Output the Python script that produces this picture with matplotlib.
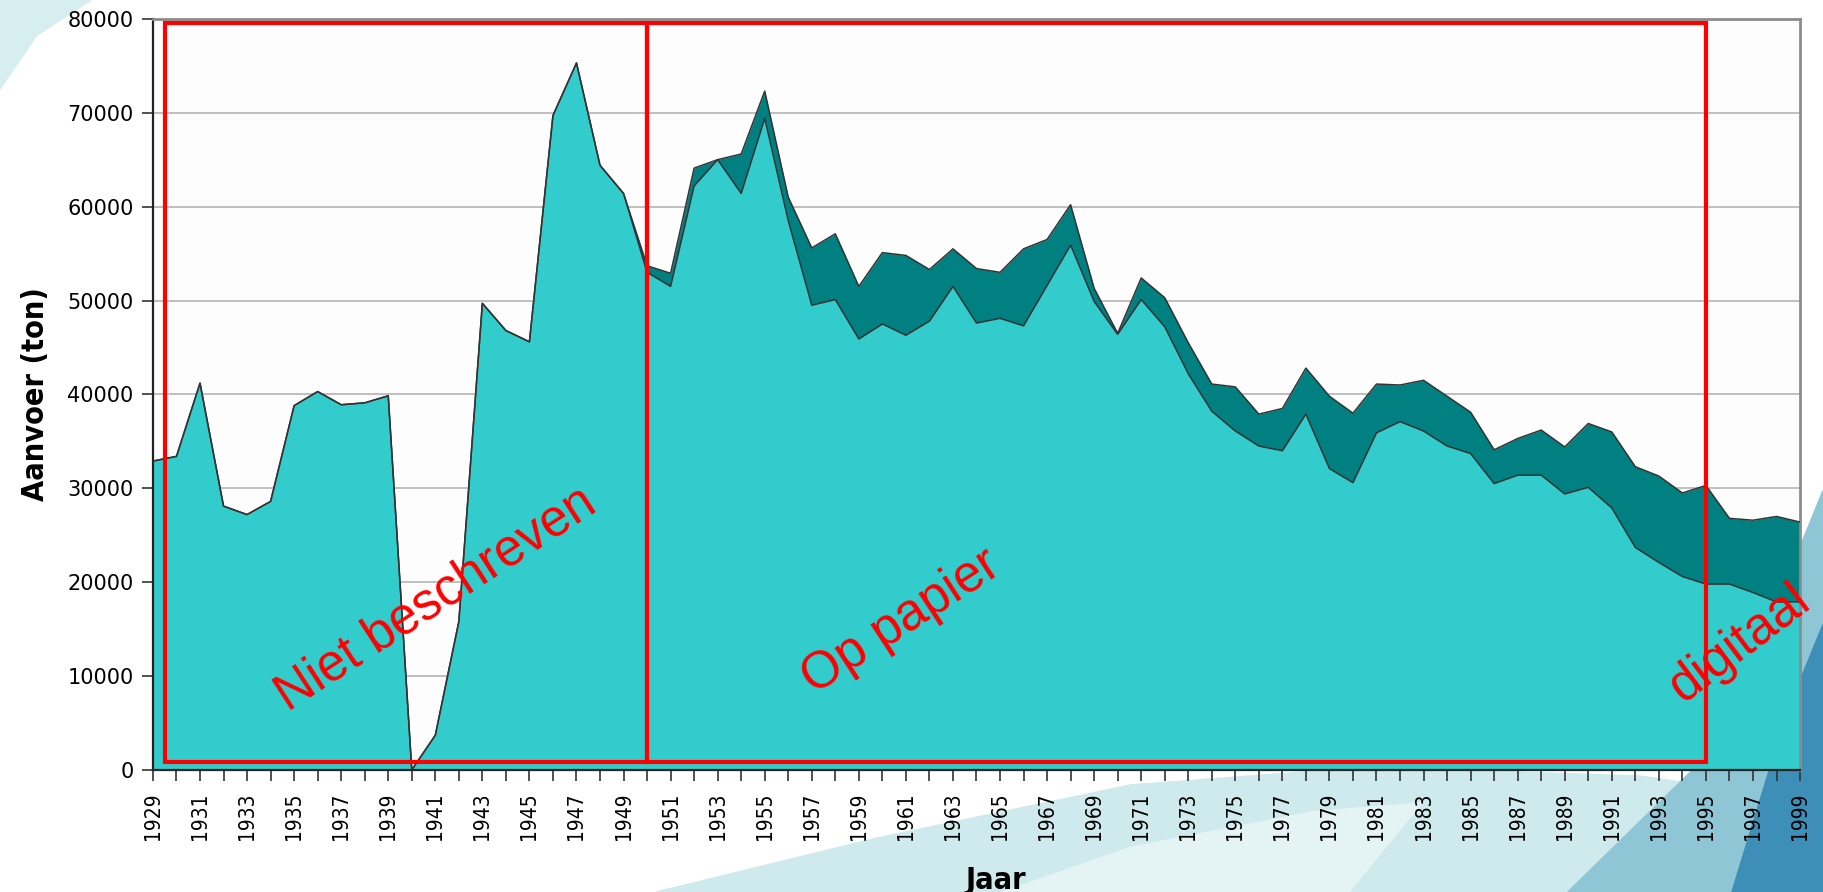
#!/usr/bin/env python3

import matplotlib
matplotlib.use('Agg')
from matplotlib import pyplot as plt
from matplotlib.patches import Rectangle, Polygon


years = list(range(1929, 2000))

# lower (light) series, tons
licht = [32900, 33400, 41200, 28100, 27200, 28600, 38800, 40300, 38900, 39100,
         39850, 0, 3700, 15800, 49700, 46800, 45600, 69700, 75300, 64400,
         61400, 53000, 51500, 62200, 65000, 61400, 69400, 58500, 49500, 50100,
         45900, 47500, 46300, 47800, 51500, 47600, 48100, 47300, 51600, 55900,
         49900, 46400, 50100, 47200, 42200, 38200, 36100, 34500, 34000, 37900,
         32100, 30600, 35900, 37100, 36100, 34500, 33700, 30500, 31400, 31400,
         29400, 30100, 27900, 23700, 22100, 20600, 19800, 19800, 18900, 17900,
         17900]

# total (light + dark), tons
totaal = [32900, 33400, 41200, 28100, 27200, 28600, 38800, 40300, 38900, 39100,
          39850, 0, 3700, 15800, 49700, 46800, 45600, 69700, 75300, 64400,
          61400, 53700, 52900, 64100, 65000, 65600, 72300, 61000, 55600, 57100,
          51500, 55100, 54800, 53300, 55500, 53400, 53000, 55500, 56500, 60200,
          51300, 46500, 52400, 50300, 45500, 41100, 40800, 37900, 38500, 42800,
          39800, 38000, 41100, 41000, 41500, 39800, 38100, 34100, 35300, 36200,
          34400, 36900, 36000, 32300, 31300, 29500, 30300, 26800, 26600, 27000,
          26400]

# periods marked with red boxes: (start, end)
perioden = [(1929.5, 1950), (1950, 1995)]

LICHT = '#33cccc'
DONKER = '#008080'
ROOD = '#ff0000'
SMAL = dict(family='DejaVu Sans', fontstretch='condensed')


def background(fig):
    bg = fig.add_axes([0, 0, 1, 1], zorder=-10)
    bg.set_xlim(0, 1)
    bg.set_ylim(0, 1)
    bg.axis('off')
    # soft cyan swirls of the slide background
    bg.add_patch(Polygon([[0, 0.90], [0.02, 0.96], [0.05, 1], [0.0, 1]], closed=True, color='#d6eef0'))
    bg.add_patch(Polygon([[0.36, 0], [0.48, 0.06], [0.62, 0.12], [0.75, 0.14],
                          [0.9, 0.13], [1, 0.1], [1, 0]], closed=True, color='#cfeaec'))
    bg.add_patch(Polygon([[0.55, 0], [0.62, 0.05], [0.72, 0.09], [0.78, 0.1],
                          [0.74, 0.0]], closed=True, color='#e4f3f4'))
    bg.add_patch(Polygon([[0.86, 0], [0.93, 0.14], [0.97, 0.3], [1, 0.45],
                          [1, 0]], closed=True, color='#8fc6d6'))
    bg.add_patch(Polygon([[0.95, 0], [0.98, 0.2], [1, 0.3], [1, 0]],
                         closed=True, color='#3d8fb8'))


def plot_aanvoer():
    fig = plt.figure(figsize=(18.23, 8.92), dpi=100)
    background(fig)
    ax = fig.add_axes([0.0839, 0.1368, 0.9035, 0.8421])
    ax.set_facecolor('#fdfdfd')

    ax.fill_between(years, 0, licht, color=LICHT, linewidth=0, zorder=2)
    ax.fill_between(years, licht, totaal, color=DONKER, linewidth=0, zorder=2)
    ax.plot(years, totaal, color='#333333', linewidth=1.1, zorder=3)
    ax.plot(years, licht, color='#333333', linewidth=1.1, zorder=3)

    ax.set_xlim(1929, 1999)
    ax.set_ylim(0, 80000)
    ax.set_yticks(range(0, 80001, 10000))
    ax.set_yticklabels([str(v) for v in range(0, 80001, 10000)],
                       family='DejaVu Sans', fontsize=15)
    ax.set_xticks(years)
    ax.set_xticklabels([str(y) if (y - 1929) % 2 == 0 else '' for y in years],
                       rotation=90, fontsize=15, **SMAL)
    ax.tick_params(axis='both', direction='out', length=8, width=1.2, color='#333333')
    ax.tick_params(axis='x', pad=8)
    ax.tick_params(axis='y', pad=6)

    ax.grid(True, axis='y', color='#b4b4b4', linewidth=1.2, zorder=1)
    ax.set_axisbelow(True)
    for side in ('left', 'bottom'):
        ax.spines[side].set_color('#222222')
        ax.spines[side].set_linewidth(1.6)
    for side in ('top', 'right'):
        ax.spines[side].set_color('#8c8c8c')
        ax.spines[side].set_linewidth(2)

    ax.set_ylabel("Aanvoer (ton)", fontsize=22, fontweight='bold', labelpad=12, **SMAL)
    ax.set_xlabel("Jaar", fontsize=22, fontweight='bold', **SMAL)
    ax.xaxis.set_label_coords(0.512, -0.128)

    for (start, eind) in perioden:
        ax.add_patch(Rectangle((start, 900), eind - start, 78700, fill=False,
                               edgecolor=ROOD, linewidth=3, zorder=5))

    tekst = dict(color=ROOD, fontsize=37, family='Liberation Sans',
                 ha='center', va='center', zorder=6)
    fig.text(436 / 1823, 1 - 599 / 892, "Niet beschreven", rotation=33, **tekst)
    fig.text(901 / 1823, 1 - 622 / 892, "Op papier", rotation=33, **tekst)
    fig.text(1740 / 1823, 1 - 643 / 892, "digitaal", rotation=37, **tekst)

    plt.savefig('out.png', dpi=100)


if __name__ == '__main__':
    plot_aanvoer()
